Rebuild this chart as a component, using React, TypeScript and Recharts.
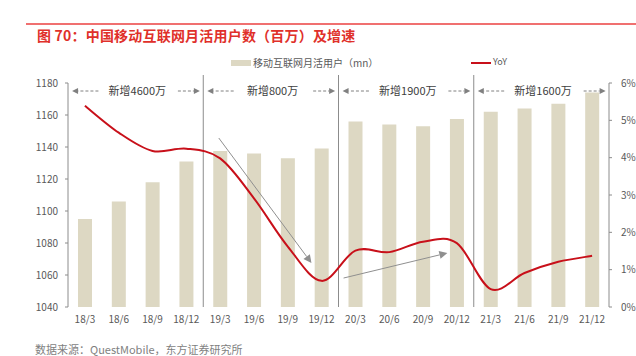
import React from 'react';
import {
  ComposedChart, Bar, Line, XAxis, YAxis, ReferenceLine, ReferenceDot,
} from 'recharts';

const categories = ['18/3', '18/6', '18/9', '18/12', '19/3', '19/6', '19/9', '19/12', '20/3', '20/6', '20/9', '20/12', '21/3', '21/6', '21/9', '21/12'];
const mauValues = [1095, 1106, 1118, 1131, 1137.5, 1136, 1133, 1139, 1156, 1154, 1153, 1157.5, 1162, 1164, 1167, 1174];
const yoyValues = [5.39, 4.67, 4.18, 4.24, 3.98, 2.91, 1.62, 0.7, 1.51, 1.47, 1.75, 1.71, 0.48, 0.91, 1.21, 1.37];
const leftTicks = [1040, 1060, 1080, 1100, 1120, 1140, 1160, 1180];
const rightTicks = [0, 1, 2, 3, 4, 5, 6];
const groupLabels = ['新增4600万', '新增800万', '新增1900万', '新增1600万'];
const separators = [4, 8, 12];
const bandTicks = [0, 1, 2, 3, 4, 5, 6, 7, 8, 9, 10, 11, 12, 13, 14, 15, 16];

const data = categories.map((c, i) => ({ cat: c, mau: mauValues[i], yoy: yoyValues[i] }));

const FONT = '"Noto Sans CJK SC", "Noto Sans", sans-serif';
const BAR = '#ddd8c3';
const RED = '#c8101a';
const GREY = '#8a8a8a';

// Catmull-Rom style smoothing similar to Excel smoothed lines
const smoothCurve = (context: any) => {
  let pts: number[][] = [];
  return {
    areaStart() {},
    areaEnd() {},
    lineStart() { pts = []; },
    point(x: number, y: number) { pts.push([+x, +y]); },
    lineEnd() {
      const n = pts.length;
      if (!n) return;
      context.moveTo(pts[0][0], pts[0][1]);
      for (let i = 0; i < n - 1; i++) {
        const p0 = pts[Math.max(i - 1, 0)];
        const p1 = pts[i];
        const p2 = pts[i + 1];
        const p3 = pts[Math.min(i + 2, n - 1)];
        const c1x = p1[0] + (p2[0] - p0[0]) / 6;
        const c1y = p1[1] + (p2[1] - p0[1]) / 6;
        const c2x = p2[0] - (p3[0] - p1[0]) / 6;
        const c2y = p2[1] - (p3[1] - p1[1]) / 6;
        context.bezierCurveTo(c1x, c1y, c2x, c2y, p2[0], p2[1]);
      }
    },
  };
};

const arrowShape = (len: number, half: number, dash?: string, color = GREY) => (props: any) => {
  const { x1, y1, x2, y2 } = props;
  if ([x1, y1, x2, y2].some((v) => v == null || isNaN(v))) return <g />;
  const dx = x2 - x1;
  const dy = y2 - y1;
  const d = Math.sqrt(dx * dx + dy * dy) || 1;
  const ux = dx / d;
  const uy = dy / d;
  const bx = x2 - ux * len;
  const by = y2 - uy * len;
  const pts = `${x2},${y2} ${bx - uy * half},${by + ux * half} ${bx + uy * half},${by - ux * half}`;
  return (
    <g>
      <line x1={x1} y1={y1} x2={bx} y2={by} stroke={color} strokeWidth={1} strokeDasharray={dash} />
      <polygon points={pts} fill={color} />
    </g>
  );
};

const bracketArrow = arrowShape(6, 3, '3 2', '#808080');
const diagArrow = arrowShape(8, 4, undefined, '#8f8f8f');

const ANNOT_Y = 1175;

export default function App() {
  return (
    <div style={{ position: 'relative', width: 636, height: 356, overflow: 'hidden', background: '#fff', fontFamily: FONT }}>
      <style>{'body{margin:0;}'}</style>
      <div style={{ position: 'absolute', left: 26, right: 0, top: 23, height: 1.5, background: '#f07070' }} />
      <div style={{ position: 'absolute', left: 37, top: 25, fontSize: 14, fontWeight: 700, color: '#e0302a', whiteSpace: 'nowrap', letterSpacing: 0.2 }}>
        图 70：中国移动互联网月活用户数（百万）及增速
      </div>
      <div style={{ position: 'absolute', left: 231, top: 60, width: 20, height: 6, background: BAR }} />
      <div style={{ position: 'absolute', left: 253, top: 55, fontSize: 10, color: '#595959', whiteSpace: 'nowrap' }}>
        移动互联网月活用户（mn）
      </div>
      <div style={{ position: 'absolute', left: 471, top: 61.5, width: 20, height: 2, background: RED }} />
      <div style={{ position: 'absolute', left: 493, top: 55, fontSize: 9, color: '#595959', whiteSpace: 'nowrap' }}>
        YoY
      </div>
      <div style={{ position: 'absolute', left: 35, top: 343, fontSize: 11, lineHeight: '12px', color: '#7f7f7f', whiteSpace: 'nowrap' }}>
        数据来源：QuestMobile，东方证券研究所
      </div>
      <div style={{ position: 'absolute', left: 0, top: 0 }}>
        <ComposedChart
          width={636}
          height={356}
          data={data}
          margin={{ top: 83, right: 0, bottom: 19, left: 8 }}
          style={{ fontFamily: FONT }}
        >
          <XAxis
            xAxisId="num"
            type="number"
            dataKey="idx"
            domain={[0, 16]}
            ticks={bandTicks}
            allowDataOverflow
            height={0}
            tickSize={4}
            tickFormatter={() => ''}
            axisLine={{ stroke: '#8c8c8c' }}
            tickLine={{ stroke: '#8c8c8c' }}
          />
          <XAxis
            xAxisId="cat"
            dataKey="cat"
            height={30}
            axisLine={false}
            tickLine={false}
            tickMargin={3}
            interval={0}
            tick={{ fontSize: 10, fill: '#595959' }}
          />
          <YAxis
            yAxisId="left"
            orientation="left"
            width={60}
            domain={[1040, 1180]}
            ticks={leftTicks}
            allowDataOverflow
            tickSize={3}
            tickMargin={7}
            axisLine={{ stroke: '#8c8c8c' }}
            tickLine={{ stroke: '#8c8c8c' }}
            tick={{ fontSize: 10, fill: '#595959' }}
          />
          <YAxis
            yAxisId="right"
            orientation="right"
            width={27}
            domain={[0, 6]}
            ticks={rightTicks}
            allowDataOverflow
            tickSize={3}
            tickMargin={9}
            tickFormatter={(v: number) => `${v}%`}
            axisLine={{ stroke: '#8c8c8c' }}
            tickLine={{ stroke: '#8c8c8c' }}
            tick={{ fontSize: 10, fill: '#595959', textAnchor: 'start' }}
          />
          <Bar
            xAxisId="cat"
            yAxisId="left"
            dataKey="mau"
            fill={BAR}
            barSize={14}
            isAnimationActive={false}
          />
          {separators.map((s) => (
            <ReferenceLine
              key={`sep${s}`}
              xAxisId="num"
              yAxisId="left"
              segment={[{ x: s, y: 1040 }, { x: s, y: 1185 }]}
              stroke="#8c8c8c"
              strokeWidth={1}
              ifOverflow="visible"
            />
          ))}
          <Line
            xAxisId="cat"
            yAxisId="right"
            dataKey="yoy"
            stroke={RED}
            strokeWidth={2}
            dot={false}
            type={smoothCurve as any}
            isAnimationActive={false}
          />
          {groupLabels.map((g, i) => (
            <ReferenceLine
              key={`bl${i}`}
              xAxisId="num"
              yAxisId="left"
              segment={[{ x: 4 * i + 0.9, y: ANNOT_Y }, { x: 4 * i + 0.12, y: ANNOT_Y }]}
              shape={bracketArrow}
              ifOverflow="visible"
            />
          ))}
          {groupLabels.map((g, i) => (
            <ReferenceLine
              key={`br${i}`}
              xAxisId="num"
              yAxisId="left"
              segment={[{ x: 4 * i + 3.25, y: ANNOT_Y }, { x: 4 * i + 3.9, y: ANNOT_Y }]}
              shape={bracketArrow}
              ifOverflow="visible"
            />
          ))}
          {groupLabels.map((g, i) => (
            <ReferenceDot
              key={`gl${i}`}
              xAxisId="num"
              yAxisId="left"
              x={4 * i + 2.05}
              y={ANNOT_Y}
              r={0}
              fill="none"
              stroke="none"
              ifOverflow="visible"
              label={{ value: g, position: 'center', fontSize: 11, fill: '#404040' }}
            />
          ))}
          <ReferenceLine
            xAxisId="num"
            yAxisId="left"
            segment={[{ x: 4.46, y: 1145.6 }, { x: 7.2, y: 1067.5 }]}
            shape={diagArrow}
            ifOverflow="visible"
          />
          <ReferenceLine
            xAxisId="num"
            yAxisId="left"
            segment={[{ x: 8.15, y: 1058.1 }, { x: 11.22, y: 1073.75 }]}
            shape={diagArrow}
            ifOverflow="visible"
          />
        </ComposedChart>
      </div>
    </div>
  );
}
